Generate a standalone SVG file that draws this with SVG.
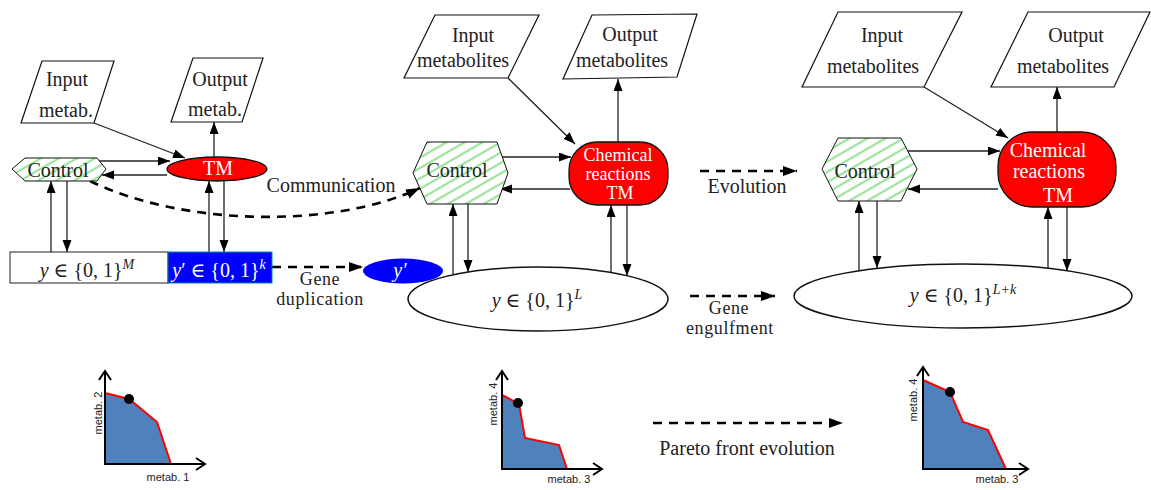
<svg xmlns="http://www.w3.org/2000/svg" width="1151" height="490" viewBox="0 0 1151 490">
<style>
.t{font-family:"Liberation Serif","DejaVu Serif",serif;font-size:20px;fill:#222;text-anchor:middle}
.m{font-size:18px;letter-spacing:0.6px}
.c{font-size:18px}
.w{fill:#fff}
.i{font-style:italic}
.s{font-size:14px}
.para{fill:#fff;stroke:#111;stroke-width:1.2}
.hex{fill:url(#hatch);stroke:#111;stroke-width:1}
.ln{fill:none;stroke:#222;stroke-width:1.3;marker-end:url(#ah)}
.dl{fill:none;stroke:#000;stroke-width:2.6;stroke-dasharray:9,7;marker-end:url(#ahd)}
.ax{fill:none;stroke:#000;stroke-width:2}
.front{fill:#4f81bd;stroke:none}
.red{fill:none;stroke:#ff0000;stroke-width:2}
.ct{font-family:"Liberation Sans","DejaVu Sans",sans-serif;font-size:11px;fill:#222;text-anchor:middle}
</style>
<defs>
<pattern id="hatch" patternUnits="userSpaceOnUse" width="9" height="9" patternTransform="rotate(-30)">
<rect width="9" height="9" fill="#fff"/>
<line x1="0" y1="4.5" x2="9" y2="4.5" stroke="#80dc80" stroke-width="1.7"/>
</pattern>
<marker id="ah" markerUnits="userSpaceOnUse" markerWidth="12" markerHeight="10" refX="12" refY="4.5" orient="auto">
<path d="M0,0 L12,4.5 L0,9 z" fill="#000"/>
</marker>
<marker id="ahd" markerUnits="userSpaceOnUse" markerWidth="14" markerHeight="11" refX="14" refY="5" orient="auto">
<path d="M0,0 L14,5 L0,10 z" fill="#000"/>
</marker>
</defs>

<g id="connectors">
<!-- left -->
<path class="ln" d="M97,161 L170,161"/>
<path class="ln" d="M167,175 L102,175"/>
<path class="ln" d="M94,123 L185,158"/>
<path class="ln" d="M214,157 L214,122"/>
<path class="ln" d="M51,252 L51,181"/>
<path class="ln" d="M67,181 L67,252"/>
<path class="ln" d="M209,252 L209,181"/>
<path class="ln" d="M224,181 L224,252"/>
<path class="dl" d="M272,267 L363,267"/>
<path class="dl" d="M90,181 C180,225 330,230 420,188"/>
<!-- middle -->
<path class="ln" d="M508,78 L575,144"/>
<path class="ln" d="M618,142 L618,79"/>
<path class="ln" d="M497,157 L571,157"/>
<path class="ln" d="M570,189 L500,189"/>
<path class="ln" d="M453,275 L453,204"/>
<path class="ln" d="M468,204 L468,272"/>
<path class="ln" d="M611,272 L611,205"/>
<path class="ln" d="M627,205 L627,276"/>
<path class="dl" d="M700,171 L797,171"/>
<path class="dl" d="M690,296 L775,296"/>
<!-- right -->
<path class="ln" d="M924,87 L1008,138"/>
<path class="ln" d="M1057,132 L1057,87"/>
<path class="ln" d="M901,151 L1000,151"/>
<path class="ln" d="M998,189 L908,189"/>
<path class="ln" d="M859,271 L859,201"/>
<path class="ln" d="M877,201 L877,268"/>
<path class="ln" d="M1048,268 L1048,207"/>
<path class="ln" d="M1067,207 L1067,271"/>
<path class="dl" d="M653,423 L843,423"/>
</g>

<g id="labels">
<text class="t" x="331" y="192">Communication</text>
<text class="t m" x="320" y="285">Gene</text>
<text class="t m" x="320" y="305">duplication</text>
<text class="t" x="747" y="193">Evolution</text>
<text class="t m" x="729" y="314">Gene</text>
<text class="t m" x="730" y="334">engulfment</text>
<text class="t" x="747" y="455">Pareto front evolution</text>
</g>

<!-- left stage -->
<g id="in1"><polygon class="para" points="42,61 114,61 94,123 21,123"/>
<text class="t" x="67" y="86">Input</text><text class="t" x="66" y="117">metab.</text></g>
<g id="out1"><polygon class="para" points="193,58 263,58 242,122 171,122"/>
<text class="t" x="220" y="86">Output</text><text class="t" x="215" y="116">metab.</text></g>
<g id="tm1"><ellipse cx="217" cy="169" rx="50" ry="12" fill="#ff0000" stroke="#111" stroke-width="1.3"/>
<text class="t w" x="218" y="175">TM</text></g>
<g id="ctrl1"><polygon class="hex" points="12,169 25,158 97,158 106,169 97,181 25,181"/>
<text class="t" x="58" y="177">Control</text></g>
<g id="y1"><rect x="10" y="252" width="158" height="31" fill="#fff" stroke="#222" stroke-width="1"/>
<text class="t" x="87" y="277"><tspan class="i">y</tspan> ∈ {0, 1}<tspan class="s i" dy="-8">M</tspan></text></g>
<g id="yk"><rect x="168" y="252" width="104" height="31" fill="#0000ff" stroke="#008b8b" stroke-width="1"/>
<text class="t w" x="219" y="277"><tspan class="i">y</tspan>′ ∈ {0, 1}<tspan class="s i" dy="-8">k</tspan></text></g>
<g id="yp"><ellipse cx="403" cy="271" rx="40" ry="12.5" fill="#0000ff"/>
<text class="t w i" x="400" y="277">y′</text></g>

<!-- middle stage -->
<g id="in2"><polygon class="para" points="435,15 539,15 508,78 404,78"/>
<text class="t" x="473" y="42">Input</text><text class="t" x="463" y="67">metabolites</text></g>
<g id="out2"><polygon class="para" points="592,15 697,14 677,77 563,79"/>
<text class="t" x="630" y="41">Output</text><text class="t" x="622" y="67">metabolites</text></g>
<g id="chem2"><rect x="569" y="142" width="99" height="63" rx="28" ry="28" fill="#ff0000" stroke="#111" stroke-width="1.3"/>
<text class="t c w" x="618" y="161">Chemical</text><text class="t c w" x="618" y="180">reactions</text><text class="t c w" x="620" y="199">TM</text></g>
<g id="ctrl2"><polygon class="hex" points="413,173 427,142 497,142 508,173 497,204 427,204"/>
<text class="t" x="457" y="177">Control</text></g>
<g id="ell2"><ellipse cx="538" cy="299" rx="130" ry="32" fill="#fff" stroke="#111" stroke-width="1.5"/>
<text class="t" x="537" y="307"><tspan class="i">y</tspan> ∈ {0, 1}<tspan class="s i" dy="-8">L</tspan></text></g>

<!-- right stage -->
<g id="in3"><polygon class="para" points="838,12 962,12 924,87 802,87"/>
<text class="t" x="882" y="42">Input</text><text class="t" x="873" y="73">metabolites</text></g>
<g id="out3"><polygon class="para" points="1028,12 1150,12 1114,87 991,87"/>
<text class="t" x="1076" y="42">Output</text><text class="t" x="1063" y="73">metabolites</text></g>
<g id="chem3"><rect x="998" y="132" width="118" height="75" rx="34" ry="34" fill="#ff0000" stroke="#111" stroke-width="1.3"/>
<text class="t w" x="1048" y="157">Chemical</text><text class="t w" x="1049" y="178">reactions</text><text class="t w" x="1058" y="202">TM</text></g>
<g id="ctrl3"><polygon class="hex" points="822,169 838,138 901,138 917,169 901,201 838,201"/>
<text class="t" x="865" y="178">Control</text></g>
<g id="ell3"><ellipse cx="963" cy="296" rx="169" ry="32" fill="#fff" stroke="#111" stroke-width="1.5"/>
<text class="t" x="963" y="302"><tspan class="i">y</tspan> ∈ {0, 1}<tspan class="s i" dy="-8">L+k</tspan></text></g>

<!-- charts -->
<g id="chart1">
<polygon class="front" points="105,393 129,399 157,422 171,464 105,464"/>
<polyline class="red" points="105,393 129,399 157,422 171,464"/>
<circle cx="129" cy="399" r="5" fill="#000"/>
<polyline class="ax" points="105,371 105,464 205,464"/>
<polyline class="ax" points="99,380 105,371 111,380"/>
<polyline class="ax" points="196,458 205,464 196,470"/>
<text class="ct" x="168" y="481">metab. 1</text>
<text class="ct" transform="translate(102,413) rotate(-90)">metab. 2</text>
</g>
<g id="chart2">
<polygon class="front" points="502,395 519,404 525,438 559,445 567,469 502,469"/>
<polyline class="red" points="502,395 519,404 525,438 559,445 567,469"/>
<circle cx="518" cy="403" r="5" fill="#000"/>
<polyline class="ax" points="502,371 502,469 602,469"/>
<polyline class="ax" points="496,380 502,371 508,380"/>
<polyline class="ax" points="593,463 602,469 593,475"/>
<text class="ct" x="569" y="483">metab. 3</text>
<text class="ct" transform="translate(497,404) rotate(-90)">metab. 4</text>
</g>
<g id="chart3">
<polygon class="front" points="923,380 950,392 963,422 988,430 1006,469 923,469"/>
<polyline class="red" points="923,380 950,392 963,422 988,430 1006,469"/>
<circle cx="950" cy="392" r="5" fill="#000"/>
<polyline class="ax" points="923,367 923,469 1028,469"/>
<polyline class="ax" points="917,376 923,367 929,376"/>
<polyline class="ax" points="1019,463 1028,469 1019,475"/>
<text class="ct" x="997" y="483">metab. 3</text>
<text class="ct" transform="translate(917,400) rotate(-90)">metab. 4</text>
</g>
</svg>
